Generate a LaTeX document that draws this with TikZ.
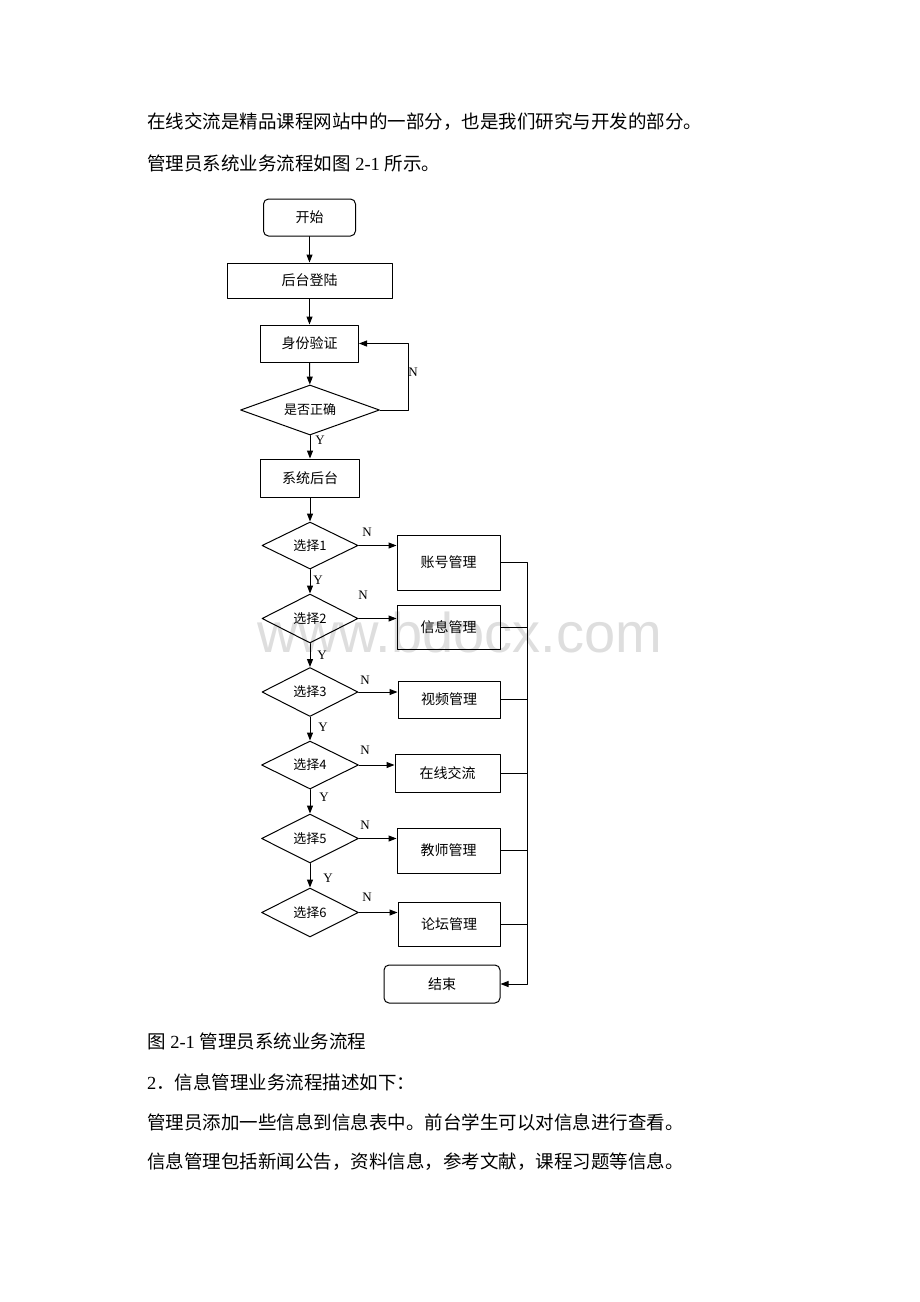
\documentclass[tikz,border=0pt]{standalone}
\usepackage{fontspec}
\setmainfont{Liberation Serif}
\newfontfamily\cjk{Noto Sans CJK SC}
\newfontfamily\wmfont{Liberation Sans}
\usetikzlibrary{arrows.meta,shapes.geometric,calc}

\begin{document}
\begin{tikzpicture}[line cap=round,line join=round,>={Triangle[length=8pt,width=6pt]},x=1pt,y=-1pt,
    flowbox/.style={draw,line width=1pt,inner sep=0pt,font=\cjk\fontsize{14}{14}\selectfont},
    roundbox/.style={flowbox,rounded corners=5pt},
    choice/.style={draw,line width=1pt,diamond,aspect=2,inner sep=0pt,font=\cjk\fontsize{13}{13}\selectfont},
    flowline/.style={line width=1pt},
    yn/.style={font=\fontsize{13}{13}\selectfont,inner sep=0pt},
    bodytext/.style={anchor=west,inner sep=0pt,font=\fontsize{18.5}{18.5}\selectfont}]
    \useasboundingbox (0,0) rectangle (920,1302);
    \node[text=black!13,font=\wmfont\fontsize{56}{56}\selectfont] (mark) at (460,632) {www.bdocx.com};
    \node[bodytext] (line1) at (147,122) {\cjk 在线交流是精品课程网站中的一部分，也是我们研究与开发的部分。};
    \node[bodytext] (line2) at (147,163) {{\cjk 管理员系统业务流程如图} 2-1 {\cjk 所示。}};
    \node[bodytext] (caption) at (147,1041) {{\cjk 图} 2-1 {\cjk 管理员系统业务流程}};
    \node[bodytext] (line3) at (147,1082) {2{\cjk ．信息管理业务流程描述如下：}};
    \node[bodytext] (line4) at (147,1122) {\cjk 管理员添加一些信息到信息表中。前台学生可以对信息进行查看。};
    \node[bodytext] (line5) at (147,1162) {\cjk 信息管理包括新闻公告，资料信息，参考文献，课程习题等信息。};

    \node[roundbox,minimum width=92,minimum height=37] (start) at (309.5,217.5) {开始};
    \node[flowbox,minimum width=165,minimum height=35] (login) at (309.5,280.5) {后台登陆};
    \node[flowbox,minimum width=98,minimum height=37] (auth) at (309.5,343.5) {身份验证};
    \node[choice,aspect=2.8,minimum width=139,minimum height=50] (check) at (310,410) {是否正确};
    \node[flowbox,minimum width=99,minimum height=38] (sys) at (310,478) {系统后台};
    \node[choice,minimum width=96,minimum height=47] (c1) at (310,545.5) {选择1};
    \node[choice,minimum width=96,minimum height=49] (c2) at (310,618.5) {选择2};
    \node[choice,minimum width=96,minimum height=49] (c3) at (310,692) {选择3};
    \node[choice,minimum width=97,minimum height=48] (c4) at (310,765) {选择4};
    \node[choice,minimum width=97,minimum height=49] (c5) at (310,838.5) {选择5};
    \node[choice,minimum width=97,minimum height=49] (c6) at (310,912.5) {选择6};
    \node[flowbox,minimum width=103,minimum height=55] (m1) at (448.5,562.5) {账号管理};
    \node[flowbox,minimum width=103,minimum height=44] (m2) at (448.5,627) {信息管理};
    \node[flowbox,minimum width=102,minimum height=37] (m3) at (449,699.5) {视频管理};
    \node[flowbox,minimum width=105,minimum height=38] (m4) at (447.5,773) {在线交流};
    \node[flowbox,minimum width=103,minimum height=45] (m5) at (448.5,850.5) {教师管理};
    \node[flowbox,minimum width=102,minimum height=44] (m6) at (449,924) {论坛管理};
    \node[roundbox,minimum width=116,minimum height=38] (end) at (442,984) {结束};
    \coordinate (bus) at (527,0);

    \draw[flowline,->] (start) -- (login);
    \draw[flowline,->] (login) -- (auth);
    \draw[flowline,->] (auth) -- (check);
    \draw[flowline,->] (check) -- (sys);
    \draw[flowline,->] (check.east) -- ++(28,0) |- (auth.east);
    \draw[flowline,->] (sys) -- (c1);
    \draw[flowline,->] (c1) -- (c2);
    \draw[flowline,->] (c2) -- (c3);
    \draw[flowline,->] (c3) -- (c4);
    \draw[flowline,->] (c4) -- (c5);
    \draw[flowline,->] (c5) -- (c6);
    \foreach \i in {1,...,6}
        \draw[flowline,->] (c\i.east) -- (c\i.east -| m\i.west);
    \foreach \i in {2,...,6}
        \draw[flowline] (m\i.east) -- (m\i.east -| bus);
    \draw[flowline,->] (m1.east) -- (m1.east -| bus) |- (end.east);

    \node[yn] (nloop) at (413,372) {N};
    \node[yn] (ycheck) at (320,440) {Y};
    \node[yn] (y1) at (318,580) {Y};
    \node[yn] (y2) at (322,655) {Y};
    \node[yn] (y3) at (323,727) {Y};
    \node[yn] (y4) at (324,797) {Y};
    \node[yn] (y5) at (328,878) {Y};
    \node[yn] (n1) at (367,532) {N};
    \node[yn] (n2) at (363,595) {N};
    \node[yn] (n3) at (365,680) {N};
    \node[yn] (n4) at (365,750) {N};
    \node[yn] (n5) at (365,825) {N};
    \node[yn] (n6) at (367,897) {N};
\end{tikzpicture}
\end{document}
